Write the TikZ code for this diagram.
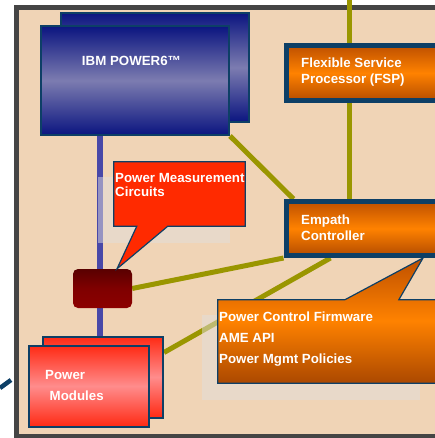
\documentclass[tikz,border=0pt]{standalone}
\usepackage{fontspec}
\setmainfont{Liberation Sans}
\usepackage{xcolor}
\usepackage{tikz}
\usetikzlibrary{arrows.meta, positioning, calc}

\definecolor{peach}{HTML}{F0D4B6}
\definecolor{framegray}{HTML}{454545}
\definecolor{navy}{HTML}{0D3F66}
\definecolor{chipblue}{HTML}{0B1580}
\definecolor{chiplight}{HTML}{7C7CB0}
\definecolor{fwdark}{HTML}{BE5000}
\definecolor{fwlight}{HTML}{FF8200}
\definecolor{pmcred}{HTML}{FF2A00}
\definecolor{linkolive}{HTML}{9A9600}
\definecolor{busblue}{HTML}{4848A8}
\definecolor{modred}{HTML}{FF2A14}
\definecolor{modpink}{HTML}{FF8C8C}
\definecolor{ghostgray}{HTML}{E2DEDC}

\pgfdeclarelayer{background}
\pgfsetlayers{background,main}

\tikzset{
	chip/.style={draw=navy, line width=2pt, inner sep=0pt,
		minimum width=188pt, minimum height=109pt,
		top color=chipblue, bottom color=chipblue, middle color=chiplight},
	ctrl/.style={draw=navy, line width=5pt, inner sep=0pt, anchor=west,
		minimum width=176.5pt,
		top color=fwdark, bottom color=fwdark!95!black, middle color=fwlight},
	module/.style={draw=navy, line width=2pt, inner sep=0pt,
		minimum width=120pt, minimum height=81pt,
		top color=modred, bottom color=modred, middle color=modpink},
	body/.style={inner sep=0pt},
	callout/.style={draw=navy, line width=1.2pt, line join=miter},
	lbl/.style={text=white, inner sep=0pt, align=left, anchor=north west,
		font=\fontsize{13.3}{16}\selectfont\bfseries},
	link/.style={draw=linkolive, line width=5pt},
	bus/.style={draw=busblue, line width=5.5pt}
}

\begin{document}
\begin{tikzpicture}[x=1pt, y=-1pt]
		
		\useasboundingbox (0,0) rectangle (435,438);
		
		% Processors
		\foreach \n/\pos in {cpuback/{(155,67.5)}, cpu/{(135,80.5)}}
		\node[chip] (\n) at \pos {};
		\node[lbl, anchor=base] (cpulbl) at (131.5,66) {IBM POWER6™};
		
		% Service processor and controller
		\node[ctrl, minimum height=55pt] (fsp) at (283.5,73) {};
		\node[ctrl, minimum height=54pt] (empath) at (283.5,228.5) {};
		\node[lbl] (fsplbl) at (301,57.4) {Flexible Service\\Processor (FSP)};
		\node[lbl] (empathlbl) at (301,214.4) {Empath\\Controller};
		
		% Measurement point on the bus
		\node[rounded corners=5pt, minimum width=59pt, minimum height=39pt,
		top color=red!35!black, bottom color=red!55!black, middle color=red!50!black]
		(conn) at (102.5,288.5) {};
		
		% Power modules
		\foreach \n/\pos in {pmback/{(103,377)}, pm/{(88.5,386)}}
		\node[module] (\n) at \pos {};
		\node[lbl, font=\fontsize{13.3}{21}\selectfont\bfseries] (pmlbl) at (45,370.4)
		{Power\\\hspace*{4.5pt}Modules};
		
		% Callouts
		\node[body, minimum width=131pt, minimum height=64pt] (pmc) at (179.5,194) {};
		\coordinate (pmctip) at ([xshift=14.5pt]conn.north);
		\draw[callout, fill=pmcred] (pmc.north west) -- (pmc.north east)
		-- (pmc.south east) -- ([xshift=54pt]pmc.south west) -- (pmctip)
		-- ([xshift=23pt]pmc.south west) -- (pmc.south west) -- cycle;
		\node[lbl, font=\fontsize{13.3}{13.5}\selectfont\bfseries] (pmclbl) at (115,173.4)
		{Power Measurement\\Circuits};
		
		\node[body, minimum width=222pt, minimum height=83pt] (pcf) at (329,341.5) {};
		\coordinate (pcftip) at (423,258);
		\draw[callout, top color=fwdark, bottom color=fwdark!90!black, middle color=fwlight]
		(pcf.north west) -- ([xshift=127pt]pcf.north west) -- (pcftip)
		-- ([xshift=181pt]pcf.north west) -- (pcf.north east) -- (pcf.south east)
		-- (pcf.south west) -- cycle;
		\node[lbl, font=\fontsize{13.3}{21}\selectfont\bfseries] (pcflbl) at (219,311.4)
		{Power Control Firmware\\AME API\\Power Mgmt Policies};
		
		\begin{pgfonlayer}{background}
			% Frame
			\draw[line width=5pt, draw=framegray, fill=peach] (16.5,7.5) rectangle (450,436.5);
			
			% Links to the controller
			\coordinate (top) at (349,0);
			\draw[link] (top) -- (top |- empath.north);
			\draw[link] (cpu.south east) -- ([xshift=10pt]empath.north west);
			\draw[link] (conn.east) -- (empath.south west);
			\draw[link] ([yshift=-17pt]pmback.north east) -- ([xshift=-43.75pt]empath.south);
			
			% Power bus
			\draw[bus] ([xshift=-2.5pt]conn.north) -- ([xshift=-2.5pt]conn.north |- cpu.south);
			\draw[bus] ([xshift=-2.5pt]conn.south) -- ([xshift=-2.5pt]conn.south |- pmback.north);
			
			% Outside feed
			\coordinate (feed) at (0,388);
			\draw[draw=navy, line width=4.5pt] (feed) -- (11,380);
			
			% Faded overlays
			\fill[ghostgray, opacity=.5] (98,177) rectangle (230,243);
			\fill[ghostgray, opacity=.5] (202,315) rectangle (420,400);
		\end{pgfonlayer}
		
	\end{tikzpicture}
\end{document}
